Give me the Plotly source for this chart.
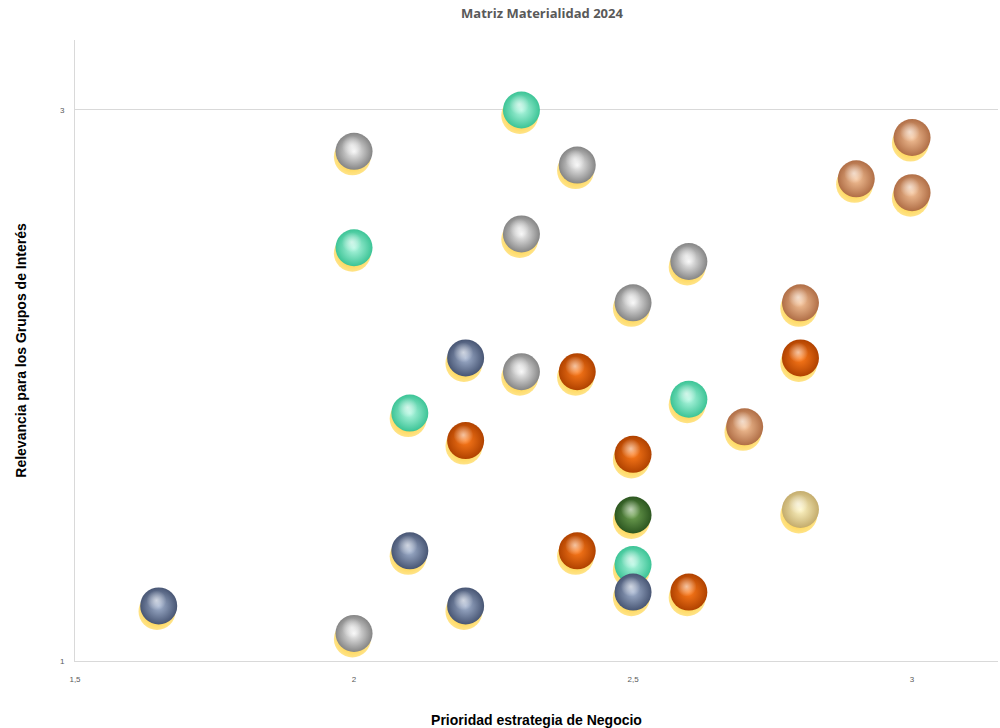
import plotly.graph_objects as go

# Data grouped by colour category: (x = Prioridad estrategia de Negocio, y = Relevancia GI)
cyan_x = [2.3, 2.0, 2.1, 2.6, 2.5]
cyan_y = [3.0, 2.5, 1.9, 1.95, 1.35]

white_x = [2.0, 2.4, 2.3, 2.6, 2.5, 2.3, 2.0]
white_y = [2.85, 2.8, 2.55, 2.45, 2.3, 2.05, 1.1]

peach_x = [3.0, 2.9, 3.0, 2.8, 2.7]
peach_y = [2.9, 2.75, 2.7, 2.3, 1.85]

blue_x = [2.2, 2.1, 2.5, 1.65, 2.2]
blue_y = [2.1, 1.4, 1.25, 1.2, 1.2]

orange_x = [2.4, 2.8, 2.2, 2.5, 2.4, 2.6]
orange_y = [2.05, 2.1, 1.8, 1.75, 1.4, 1.25]

green_x = [2.5]
green_y = [1.53]

yellow_x = [2.8]
yellow_y = [1.55]

# (edge colour, centre colour) for the radial shading of each group
groups = [
    ("peach", peach_x, peach_y, "#B06E46", "#F6C49A"),
    ("white", white_x, white_y, "#858585", "#F6F6F6"),
    ("cyan", cyan_x, cyan_y, "#3CC496", "#B4F8E2"),
    ("blue", blue_x, blue_y, "#485674", "#A4B4D0"),
    ("orange", orange_x, orange_y, "#B04200", "#FF7C1C"),
    ("green", green_x, green_y, "#2C5620", "#72A454"),
    ("yellow", yellow_x, yellow_y, "#C4AC6C", "#FFF6C6"),
]

SHADOW_DY = 0.02
SHADOW_DX = 0.003
LIGHT_DY = 0.02
LIGHT_DX = 0.004
SIZE = 37

fig = go.Figure()

for name, xs, ys, edge, centre in groups:
    fig.add_trace(go.Scatter(
        x=[v - SHADOW_DX for v in xs], y=[v - SHADOW_DY for v in ys], mode="markers",
        marker=dict(size=SIZE, color="rgba(255,205,40,0.55)",
                    gradient=dict(type="radial", color="#FFC000"),
                    line=dict(width=0)),
        hoverinfo="skip", showlegend=False))

for name, xs, ys, edge, centre in groups:
    fig.add_trace(go.Scatter(
        x=xs, y=ys, mode="markers", name=name,
        marker=dict(size=SIZE, color=edge,
                    gradient=dict(type="radial", color=centre),
                    line=dict(width=0)),
        showlegend=False))

for name, xs, ys, edge, centre in groups:
    fig.add_trace(go.Scatter(
        x=[v - LIGHT_DX for v in xs], y=[v + LIGHT_DY for v in ys], mode="markers",
        marker=dict(size=20, color="rgba(255,255,255,0)",
                    gradient=dict(type="radial", color="rgba(255,255,255,0.6)"),
                    line=dict(width=0)),
        hoverinfo="skip", showlegend=False))

fig.update_layout(
    width=1000, height=728,
    paper_bgcolor="white", plot_bgcolor="white",
    margin=dict(l=75, r=2, t=40, b=67),
    separators=",.",
    title=dict(text="<b>Matriz Materialidad 2024</b>", x=0.542, xanchor="center",
               y=0.981, yanchor="middle",
               font=dict(family="Open Sans, Arial", size=13, color="#595959")),
    font=dict(family="Liberation Sans, Arial"),
)

fig.update_xaxes(
    range=[1.5, 3.154], dtick=0.5, tick0=1.5, showgrid=False, zeroline=False,
    showline=True, linecolor="#D9D9D9", linewidth=1,
    tickfont=dict(size=8, color="#595959"), ticklabelstandoff=10,
    title=dict(text="<b>Prioridad estrategia de Negocio</b>",
               font=dict(size=14, color="black"), standoff=34),
)
fig.update_yaxes(
    range=[1, 3.254], dtick=2, tick0=1, showgrid=True, gridcolor="#D9D9D9",
    zeroline=False, showline=True, linecolor="#D9D9D9", linewidth=1,
    tickfont=dict(size=8, color="#595959"), ticklabelstandoff=8,
    title=dict(text="<b>Relevancia para los Grupos de Interés</b>",
               font=dict(size=14, color="black"), standoff=30),
)

fig.write_html("out.html")
